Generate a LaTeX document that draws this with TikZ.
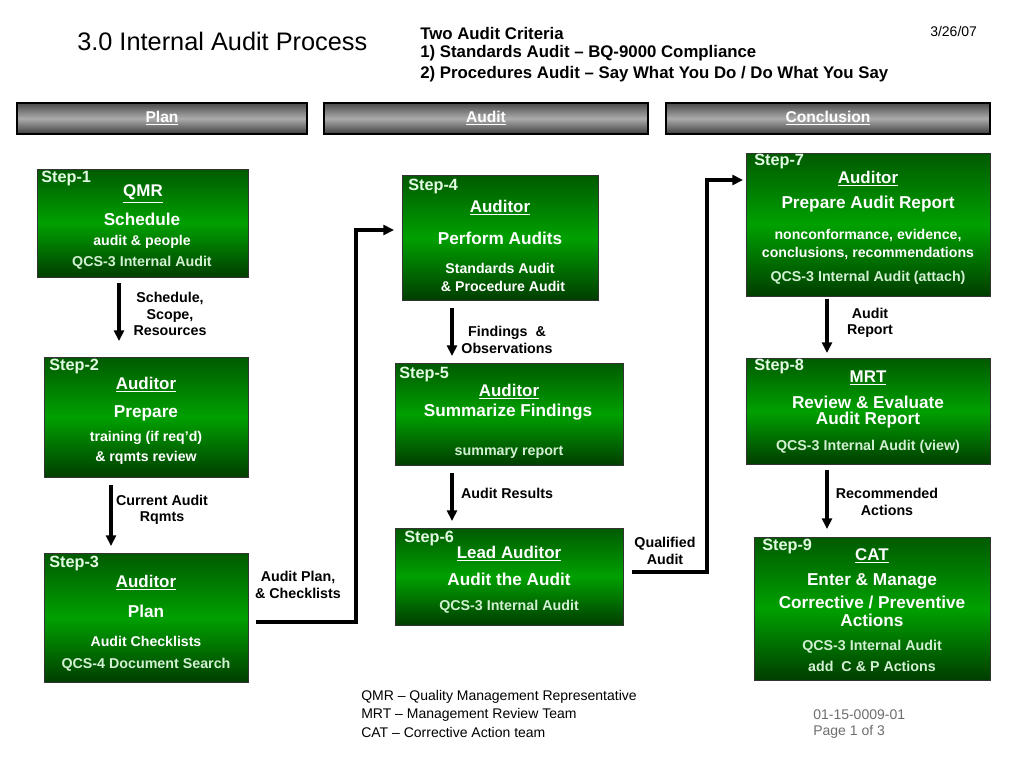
\documentclass[tikz,border=0pt]{standalone}
\usepackage{fontspec}
\setmainfont{Liberation Sans}
\usetikzlibrary{arrows.meta,fit}
\definecolor{gtop}{RGB}{0,90,0}
\definecolor{gmid}{RGB}{0,160,0}
\definecolor{gbot}{RGB}{0,62,0}
\definecolor{paleg}{RGB}{225,250,225}
\definecolor{refg}{RGB}{210,240,210}
\definecolor{btop}{RGB}{75,75,75}
\definecolor{bmid}{RGB}{172,172,172}
\definecolor{bbot}{RGB}{62,62,62}
\definecolor{pagegray}{RGB}{110,110,110}
\newcommand\myfs[1]{\fontsize{#1}{#1}\selectfont}
\tikzset{
  box/.style={draw=black!80, line width=0.6pt, top color=gtop, bottom color=gbot, middle color=gmid, inner sep=0pt},
  bar/.style={draw=black, line width=0.8pt, top color=btop, bottom color=bbot, middle color=bmid, inner sep=0pt},
  hdr/.style={text=white, font=\bfseries\myfs{11.7}},
  steplbl/.style={anchor=west, inner sep=0pt, text=paleg, font=\bfseries\myfs{12.2}},
  role/.style={inner sep=0pt, text=white, font=\bfseries\myfs{12.7}},
  main/.style={inner sep=0pt, text=white, font=\bfseries\myfs{12.9}},
  sub/.style={inner sep=0pt, text=white, font=\bfseries\myfs{10.6}},
  ref/.style={inner sep=0pt, text=refg, font=\bfseries\myfs{10.7}},
  lbl/.style={inner sep=0pt, align=center, font=\bfseries\myfs{10.7}, text=black},
  arr/.style={line width=2.6pt, draw=black, -{Triangle[length=8pt,width=7.5pt]}},
  plain/.style={inner sep=0pt, anchor=west, font=\myfs{10.5}}
}
\begin{document}
\begin{tikzpicture}[x=0.75pt,y=-0.75pt]
\useasboundingbox (0,0) rectangle (1024,768);
\fill[white] (0,0) rectangle (1024,768);

% Title and criteria
\node[inner sep=0pt, anchor=west, font=\myfs{19}] (title) at (77,41) {3.0 Internal Audit Process};
\node[inner sep=0pt, anchor=west, font=\bfseries\myfs{12.6}] (crit1) at (420,33) {Two Audit Criteria};
\node[inner sep=0pt, anchor=west, font=\bfseries\myfs{12.6}] (crit2) at (420,53) {1) Standards Audit – BQ-9000 Compliance};
\node[inner sep=0pt, anchor=west, font=\bfseries\myfs{12.6}] (crit3) at (420,74) {2) Procedures Audit – Say What You Do / Do What You Say};
\node[inner sep=0pt, anchor=west, font=\myfs{10.5}] (date) at (930,31) {3/26/07};

% Header bars
\node[bar, fit={(17,103) (307,134)}] (hplan) {};
\node[hdr] (hplanT) at (hplan.center) {\underline{Plan}};
\node[bar, fit={(324,103) (648,134)}] (haudit) {};
\node[hdr] (hauditT) at (haudit.center) {\underline{Audit}};
\node[bar, fit={(666,103) (990,134)}] (hconc) {};
\node[hdr] (hconcT) at (hconc.center) {\underline{Conclusion}};

% Step 1
\node[box, fit={(37,169) (248,277)}] (s1) {};
\node[steplbl] (s1l) at (41,179) {Step-1};
\node[role] (s1a) at (143,194) {\underline{QMR}};
\node[main] (s1b) at (142,219) {Schedule};
\node[sub] (s1c) at (142,242) {audit \& people};
\node[ref] (s1d) at (142,263) {QCS-3 Internal Audit};

% Step 2
\node[box, fit={(44,357) (248,477)}] (s2) {};
\node[steplbl] (s2l) at (49,367) {Step-2};
\node[role] (s2a) at (146,385) {\underline{Auditor}};
\node[main] (s2b) at (146,413) {Prepare};
\node[sub] (s2c) at (146,438) {training (if req’d)};
\node[sub] (s2d) at (146,458) {\& rqmts review};

% Step 3
\node[box, fit={(44,553) (248,682)}] (s3) {};
\node[steplbl] (s3l) at (49,563) {Step-3};
\node[role] (s3a) at (146,583) {\underline{Auditor}};
\node[main] (s3b) at (146,611) {Plan};
\node[sub] (s3c) at (146,641) {Audit Checklists};
\node[ref] (s3d) at (146,665) {QCS-4 Document Search};

% Step 4
\node[box, fit={(402,175) (598,300)}] (s4) {};
\node[steplbl] (s4l) at (408,187) {Step-4};
\node[role] (s4a) at (500,208) {\underline{Auditor}};
\node[main] (s4b) at (500,238) {Perform Audits};
\node[sub] (s4c) at (500,268) {Standards Audit};
\node[sub] (s4d) at (503,286) {\& Procedure Audit};

% Step 5
\node[box, fit={(395,363) (623,465)}] (s5) {};
\node[steplbl] (s5l) at (399,375) {Step-5};
\node[role] (s5a) at (509,392) {\underline{Auditor}};
\node[main] (s5b) at (508,412) {Summarize Findings};
\node[ref] (s5c) at (509,452) {summary report};

% Step 6
\node[box, fit={(395,528) (623,625)}] (s6) {};
\node[steplbl] (s6l) at (404,538) {Step-6};
\node[role] (s6a) at (509,554) {\underline{Lead Auditor}};
\node[main] (s6b) at (509,579) {Audit the Audit};
\node[ref] (s6c) at (509,607) {QCS-3 Internal Audit};

% Step 7
\node[box, fit={(746,153) (990,296)}] (s7) {};
\node[steplbl] (s7l) at (754,162) {Step-7};
\node[role] (s7a) at (868,179) {\underline{Auditor}};
\node[main] (s7b) at (868,204) {Prepare Audit Report};
\node[sub] (s7c) at (868,235) {nonconformance, evidence,};
\node[sub] (s7d) at (868,253) {conclusions, recommendations};
\node[ref] (s7e) at (868,278) {QCS-3 Internal Audit (attach)};

% Step 8
\node[box, fit={(746,358) (990,464)}] (s8) {};
\node[steplbl] (s8l) at (754,367) {Step-8};
\node[role] (s8a) at (868,378) {\underline{MRT}};
\node[main] (s8b) at (868,402) {Review \& Evaluate};
\node[main] (s8c) at (868,420) {Audit Report};
\node[ref] (s8d) at (868,447) {QCS-3 Internal Audit (view)};

% Step 9
\node[box, fit={(754,537) (990,680)}] (s9) {};
\node[steplbl] (s9l) at (762,546) {Step-9};
\node[role] (s9a) at (872,556) {\underline{CAT}};
\node[main] (s9b) at (872,581) {Enter \& Manage};
\node[main] (s9c) at (872,602) {Corrective / Preventive};
\node[main] (s9d) at (872,620) {Actions};
\node[ref] (s9e) at (872,647) {QCS-3 Internal Audit};
\node[ref] (s9f) at (872,666) {add\ \ C \& P Actions};

% Arrow end points
\coordinate (a12s) at (119,283); \coordinate (a12e) at (119,341);
\coordinate (a23s) at (111,485); \coordinate (a23e) at (111,546);
\coordinate (a45s) at (452,308); \coordinate (a45e) at (452,356);
\coordinate (a56s) at (452,473); \coordinate (a56e) at (452,521);
\coordinate (a78s) at (827,299); \coordinate (a78e) at (827,353);
\coordinate (a89s) at (827,470); \coordinate (a89e) at (827,529);
\coordinate (e34s) at (256,622); \coordinate (e34k) at (356,230); \coordinate (e34e) at (394,230);
\coordinate (e67s) at (632,572); \coordinate (e67k) at (707,180); \coordinate (e67e) at (743,180);

\draw[arr] (a12s) -- (a12e);
\draw[arr] (a23s) -- (a23e);
\draw[arr] (a45s) -- (a45e);
\draw[arr] (a56s) -- (a56e);
\draw[arr] (a78s) -- (a78e);
\draw[arr] (a89s) -- (a89e);
\draw[arr] (e34s) -| (e34k) -- (e34e);
\draw[arr] (e67s) -| (e67k) -- (e67e);

% Arrow labels
\node[lbl] (l12) at (170,314) {Schedule,\\[1.5pt]Scope,\\[1.5pt]Resources};
\node[lbl] (l23) at (162,510) {Current Audit\\[1.5pt]Rqmts};
\node[lbl] (l45) at (507,340) {Findings\ \ \&\\[1.5pt]Observations};
\node[lbl] (l56) at (507,493) {Audit Results};
\node[lbl] (l78) at (870,323) {Audit\\[1.5pt]Report};
\node[lbl] (l89) at (887,502) {Recommended\\[1.5pt]Actions};
\node[lbl] (l34) at (298,585) {Audit Plan,\\[1.5pt]\& Checklists};
\node[lbl] (l67) at (665,551) {Qualified\\[1.5pt]Audit};

% Footer
\node[plain] (f1) at (361,697) {QMR – Quality Management Representative};
\node[plain] (f2) at (361,715) {MRT – Management Review Team};
\node[plain] (f3) at (361,732) {CAT – Corrective Action team};
\node[plain, text=pagegray] (f4) at (813,715) {01-15-0009-01};
\node[plain, text=pagegray] (f5) at (813,732) {Page 1 of 3};
\end{tikzpicture}
\end{document}
